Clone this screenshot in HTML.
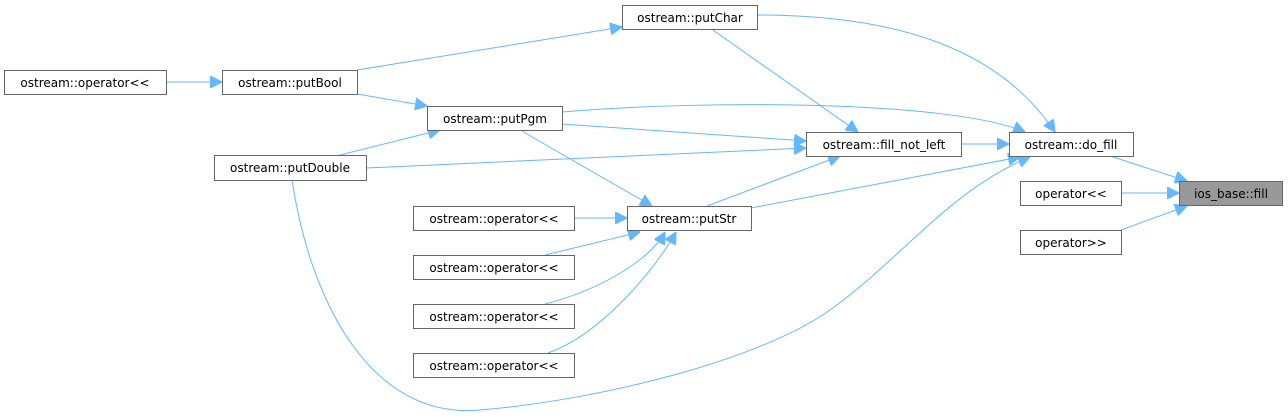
<!DOCTYPE html>
<html><head><meta charset="utf-8"><style>
html,body{margin:0;padding:0;background:#fff;}
svg{display:block}
text{font-family:"DejaVu Sans","Liberation Sans",sans-serif;font-size:12px;fill:#000;}
rect{fill:#fff;stroke:#666;stroke-width:1}
path{fill:none;stroke:#63b8ff;stroke-width:1}
</style></head><body>
<svg width="1288" height="420" viewBox="0 0 1288 420" xmlns="http://www.w3.org/2000/svg">
<defs>
<marker id="a" viewBox="0 0 10 10" refX="10" refY="5" markerWidth="12" markerHeight="12" markerUnits="userSpaceOnUse" orient="auto">
<path d="M0,0 L10,5 L0,10 z" style="fill:#63b8ff;stroke:#63b8ff"/>
</marker>
</defs>
<g marker-end="url(#a)">
<path d="M166,82 L222,82"/>
<path d="M357,70 L622,27"/>
<path d="M357,94 L427,106"/>
<path d="M340,155 L440,130"/>
<path d="M366,168 L806,148"/>
<path d="M562,124 L806,141"/>
<path d="M562,112 C700,100 950,100 1025,132"/>
<path d="M520,130 L652,206"/>
<path d="M710,28 L858,132"/>
<path d="M757,15 C900,15 1000,50 1055,132"/>
<path d="M961,144 L1009,144"/>
<path d="M707,206 L840,156"/>
<path d="M751,208 L1020,157"/>
<path d="M292,180 C310,300 370,420 480,410 C600,400 760,360 830,310 C900,260 950,190 1030,157"/>
<path d="M1110,156 L1187,181"/>
<path d="M1121,193 L1179,193"/>
<path d="M1121,230 L1187,206"/>
<path d="M574,218 L627,218"/>
<path d="M545,255 L640,232"/>
<path d="M545,304 C600,290 650,260 665,232"/>
<path d="M548,353 C600,335 655,270 676,232"/>
</g>
<rect x="622.5" y="5.5" width="135" height="24"/><text x="690" y="22" text-anchor="middle">ostream::putChar</text>
<rect x="4.5" y="70.5" width="162" height="24"/><text x="85" y="87" text-anchor="middle">ostream::operator&lt;&lt;</text>
<rect x="222.5" y="70.5" width="135" height="24"/><text x="290" y="87" text-anchor="middle">ostream::putBool</text>
<rect x="427.5" y="106.5" width="135" height="24"/><text x="495" y="123" text-anchor="middle">ostream::putPgm</text>
<rect x="214.5" y="155.5" width="152" height="25"/><text x="290" y="172" text-anchor="middle">ostream::putDouble</text>
<rect x="806.5" y="132.5" width="155" height="24"/><text x="884" y="149" text-anchor="middle">ostream::fill_not_left</text>
<rect x="1009.5" y="132.5" width="124" height="24"/><text x="1071" y="149" text-anchor="middle">ostream::do_fill</text>
<rect x="1179.5" y="181.5" width="103" height="24" style="fill:#999"/><text x="1231" y="198" text-anchor="middle">ios_base::fill</text>
<rect x="1020.5" y="181.5" width="101" height="24"/><text x="1071" y="198" text-anchor="middle">operator&lt;&lt;</text>
<rect x="1020.5" y="230.5" width="101" height="24"/><text x="1071" y="247" text-anchor="middle">operator&gt;&gt;</text>
<rect x="627.5" y="206.5" width="124" height="24"/><text x="689" y="223" text-anchor="middle">ostream::putStr</text>
<rect x="413.5" y="206.5" width="161" height="24"/><text x="494" y="223" text-anchor="middle">ostream::operator&lt;&lt;</text>
<rect x="413.5" y="255.5" width="161" height="24"/><text x="494" y="272" text-anchor="middle">ostream::operator&lt;&lt;</text>
<rect x="413.5" y="304.5" width="161" height="24"/><text x="494" y="321" text-anchor="middle">ostream::operator&lt;&lt;</text>
<rect x="413.5" y="353.5" width="161" height="24"/><text x="494" y="370" text-anchor="middle">ostream::operator&lt;&lt;</text>
</svg>
</body></html>
